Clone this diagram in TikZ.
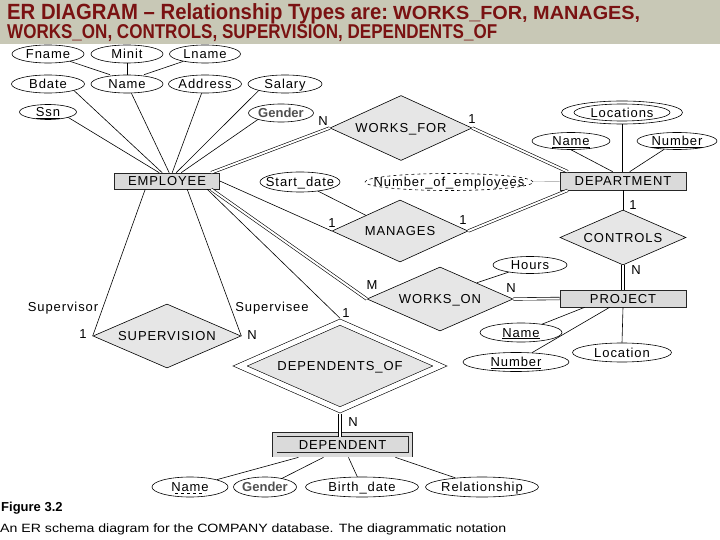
\documentclass[tikz,border=0pt]{standalone}
\usepackage{fontspec}
\usepackage{graphicx}
\setmainfont{Liberation Sans}
\newfontfamily\erf[LetterSpace=7]{Liberation Sans}
\usetikzlibrary{shapes.geometric}
\definecolor{band}{RGB}{200,200,182}
\definecolor{ttlred}{RGB}{122,18,18}
\definecolor{relfill}{RGB}{230,230,230}
\definecolor{entfill}{RGB}{218,218,218}
\definecolor{gendergray}{RGB}{80,80,80}
\newcommand\zb[1]{\makebox[0pt]{#1}}
\tikzset{
  base/.style={inner sep=0pt, text height=9.3pt, text depth=0pt, line width=0.6pt},
  attr/.style={base, ellipse, draw, fill=white, font=\fontsize{13}{13}\selectfont\erf},
  gattr/.style={base, ellipse, draw, fill=white, font=\fontsize{13}{13}\selectfont\bfseries, text=gendergray},
  ent/.style={base, rectangle, draw=black!85, fill=entfill, font=\fontsize{13}{13}\selectfont\erf},
  rel/.style={base, diamond, draw, fill=relfill, font=\fontsize{13}{13}\selectfont\erf},
  conn/.style={line width=0.6pt},
  dbl/.style={line width=0.6pt, double, double distance=2pt},
  card/.style={inner sep=0pt, font=\fontsize{13}{13}\selectfont\erf},
  ttl/.style={inner sep=0pt, anchor=base west, text=ttlred}
}
\begin{document}
\begin{tikzpicture}[x=1pt,y=-1pt]
\useasboundingbox (0,0) rectangle (720,540);
\fill[white] (0,0) rectangle (720,540);
\fill[band] (0,0) rectangle (720,44);
\node[ttl] (t1) at (7,20) {\resizebox{381pt}{\height}{\fontsize{22}{22}\selectfont\bfseries ER DIAGRAM – Relationship Types are:}};
\node[ttl] (t2) at (393,20) {\resizebox{247pt}{\height}{\fontsize{19}{19}\selectfont\bfseries WORKS\_FOR, MANAGES,}};
\node[ttl] (t3) at (7,39) {\resizebox{490pt}{\height}{\fontsize{20}{20}\selectfont\bfseries WORKS\_ON, CONTROLS, SUPERVISION, DEPENDENTS\_OF}};

% EMPLOYEE attributes
\node[attr, minimum width=72pt, minimum height=18pt] (fname) at (48,54) {\zb{Fname}};
\node[attr, minimum width=72pt, minimum height=18pt] (minit) at (127,54) {\zb{Minit}};
\node[attr, minimum width=71pt, minimum height=18pt] (lname) at (205,54) {\zb{Lname}};
\node[attr, minimum width=73pt, minimum height=18pt] (bdate) at (48,84) {\zb{Bdate}};
\node[attr, minimum width=72pt, minimum height=18pt] (ename) at (127,84) {\zb{Name}};
\node[attr, minimum width=73pt, minimum height=18pt] (addr) at (205,84) {\zb{Address}};
\node[attr, minimum width=74pt, minimum height=18pt] (salary) at (285,84) {\zb{Salary}};
\node[attr, minimum width=57pt, minimum height=15pt] (ssn) at (48,112) {\zb{\underline{Ssn}}};
\node[gattr, minimum width=65pt, minimum height=18pt] (gender) at (281,113) {\zb{Gender}};

\node[ent, minimum width=105pt, minimum height=16pt] (emp) at (167,181) {\zb{EMPLOYEE}};

% DEPARTMENT side
\node[attr, minimum width=80pt, minimum height=20pt] (sd) at (300,182) {\zb{Start\_date}};
\node[attr, dashed, minimum width=168pt, minimum height=17pt] (noe) at (449,182) {\zb{Number\_of\_employees}};
\node[ent, minimum width=126pt, minimum height=18pt] (dept) at (623,181) {\zb{DEPARTMENT}};
\node[attr, minimum width=121pt, minimum height=23pt] (loc) at (622,112.5) {};
\node[attr, minimum width=96pt, minimum height=17pt] (locin) at (622,112.5) {\zb{Locations}};
\node[attr, minimum width=78pt, minimum height=17pt] (dname) at (571,141) {\zb{\underline{Name}}};
\node[attr, minimum width=80pt, minimum height=17pt] (dnum) at (677,141) {\zb{\underline{Number}}};

% relationships
\node[rel, minimum width=142pt, minimum height=65pt] (wf) at (401,128) {\zb{WORKS\_FOR}};
\node[rel, minimum width=136pt, minimum height=62pt] (mg) at (400,231) {\zb{MANAGES}};
\node[rel, minimum width=126pt, minimum height=55pt] (ctl) at (623,237.5) {\zb{CONTROLS}};
\node[rel, minimum width=146pt, minimum height=64pt] (wo) at (440,299) {\zb{WORKS\_ON}};
\node[rel, minimum width=148pt, minimum height=64pt] (sup) at (167,336) {\zb{SUPERVISION}};
\node[rel, double, double distance=5pt, minimum width=200pt, minimum height=88pt] (dof) at (340,366) {\zb{DEPENDENTS\_OF}};

% PROJECT
\node[attr, minimum width=74pt, minimum height=17pt] (hours) at (530,265) {\zb{Hours}};
\node[ent, minimum width=126pt, minimum height=17pt] (proj) at (623,298.5) {\zb{PROJECT}};
\node[attr, minimum width=82pt, minimum height=19pt] (pname) at (521,332.5) {\zb{\underline{Name}}};
\node[attr, minimum width=106pt, minimum height=19pt] (pnum) at (516,362) {\zb{\underline{Number}}};
\node[attr, minimum width=99pt, minimum height=19pt] (ploc) at (622,352.5) {\zb{Location}};

% DEPENDENT
\node[ent, double=entfill, double distance=3.5pt, minimum width=135.5pt, minimum height=20.5pt] (dep) at (342.5,444.5) {\zb{DEPENDENT}};
\node[attr, minimum width=76pt, minimum height=20pt] (depname) at (190,487) {\zb{Name}};
\node[gattr, minimum width=63pt, minimum height=20pt] (depgender) at (265,487) {\zb{Gender}};
\node[attr, minimum width=113pt, minimum height=20pt] (bdate2) at (362,487) {\zb{Birth\_date}};
\node[attr, minimum width=113pt, minimum height=20pt] (relship) at (482,487) {\zb{Relationship}};
\draw[dashed, line width=0.5pt] ([xshift=-15pt,yshift=-6.5pt]depname.center) -- ([xshift=15pt,yshift=-6.5pt]depname.center);

% connectors: EMPLOYEE attributes
\draw[conn] (fname) -- ([xshift=-17pt]ename.north);
\draw[conn] (minit) -- (ename);
\draw[conn] (lname) -- ([xshift=17pt]ename.north);
\draw[conn] (ssn.south east) -- ([xshift=45pt]emp.north west);
\draw[conn] (bdate.south east) -- ([xshift=48pt]emp.north west);
\draw[conn] (ename) -- ([xshift=55pt]emp.north west);
\draw[conn] (addr) -- ([xshift=58pt]emp.north west);
\draw[conn] (salary.south west) -- ([xshift=62pt]emp.north west);
\draw[conn] (gender.south west) -- ([xshift=67pt]emp.north west);

% WORKS_FOR
\draw[dbl] ([xshift=97pt]emp.north west) -- (wf.west);
\draw[dbl] (wf.east) -- ([xshift=8pt]dept.north west);
% MANAGES
\draw[conn] (emp.east) -- (mg.west);
\draw[dbl] (mg.east) -- ([xshift=8pt]dept.south west);
\draw[conn] (sd) -- (mg.north west);
% DEPARTMENT attributes
\draw[conn, black!40, line width=0.4pt] (noe) -- (dept);
\draw[conn] (loc.south) -- (loc.south |- dept.north);
\draw[conn] (dname.south) -- ([xshift=53pt]dept.north west);
\draw[conn] (dnum) -- ([xshift=70pt]dept.north west);
% CONTROLS
\draw[conn] (dept.south) -- (ctl.north);
\draw[dbl] (ctl.south) -- (proj.north);
% WORKS_ON
\draw[dbl] ([xshift=97pt]emp.south west) -- (wo.west);
\draw[dbl] (wo.east) -- (proj.west);
\draw[conn] (hours) -- (wo.north east);
% PROJECT attributes
\draw[conn] ([xshift=25pt]proj.south west) -- (pname);
\draw[conn] ([xshift=50pt]proj.south west) -- (pnum);
\draw[conn] (proj.south) -- (ploc.north);
% SUPERVISION
\draw[conn] ([xshift=31pt]emp.south west) -- (sup.west);
\draw[conn] ([xshift=73pt]emp.south west) -- (sup.east);
% DEPENDENTS_OF
\draw[conn] ([xshift=93pt]emp.south west) -- ([yshift=3.5pt]dof.north);
\draw[dbl] ([yshift=-3.5pt]dof.south) -- ([yshift=-3.5pt]dof.south |- dep.north);
% DEPENDENT attributes
\draw[conn] ([xshift=24pt,yshift=-2.3pt]dep.south west) -- (depname);
\draw[conn] ([xshift=49pt,yshift=-2.3pt]dep.south west) -- (depgender);
\draw[conn] ([xshift=74pt,yshift=-2.3pt]dep.south west) -- (bdate2);
\draw[conn] ([xshift=121pt,yshift=-2.3pt]dep.south west) -- (relship);

% cardinalities and roles
\node[card] (c1) at (323,121) {N};
\node[card] (c2) at (472,119) {1};
\node[card] (c3) at (332,223) {1};
\node[card] (c4) at (463,220) {1};
\node[card] (c5) at (633,205) {1};
\node[card] (c6) at (636,270) {N};
\node[card] (c7) at (372,285) {M};
\node[card] (c8) at (511,288) {N};
\node[card] (c9) at (83,334) {1};
\node[card] (c10) at (252,335) {N};
\node[card] (c11) at (346,313) {1};
\node[card] (c12) at (353,422) {N};
\node[card] (r1) at (63,308) {Supervisor};
\node[card] (r2) at (272,308) {Supervisee};

% caption
\node[inner sep=0pt, anchor=west, font=\fontsize{13}{13}\selectfont\bfseries] (fig) at (1,508) {Figure 3.2};
\node[inner sep=0pt, anchor=west] (cap) at (0,529) {\resizebox{506pt}{\height}{\fontsize{12}{12}\selectfont An ER schema diagram for the COMPANY database. The diagrammatic notation}};
\end{tikzpicture}
\end{document}
